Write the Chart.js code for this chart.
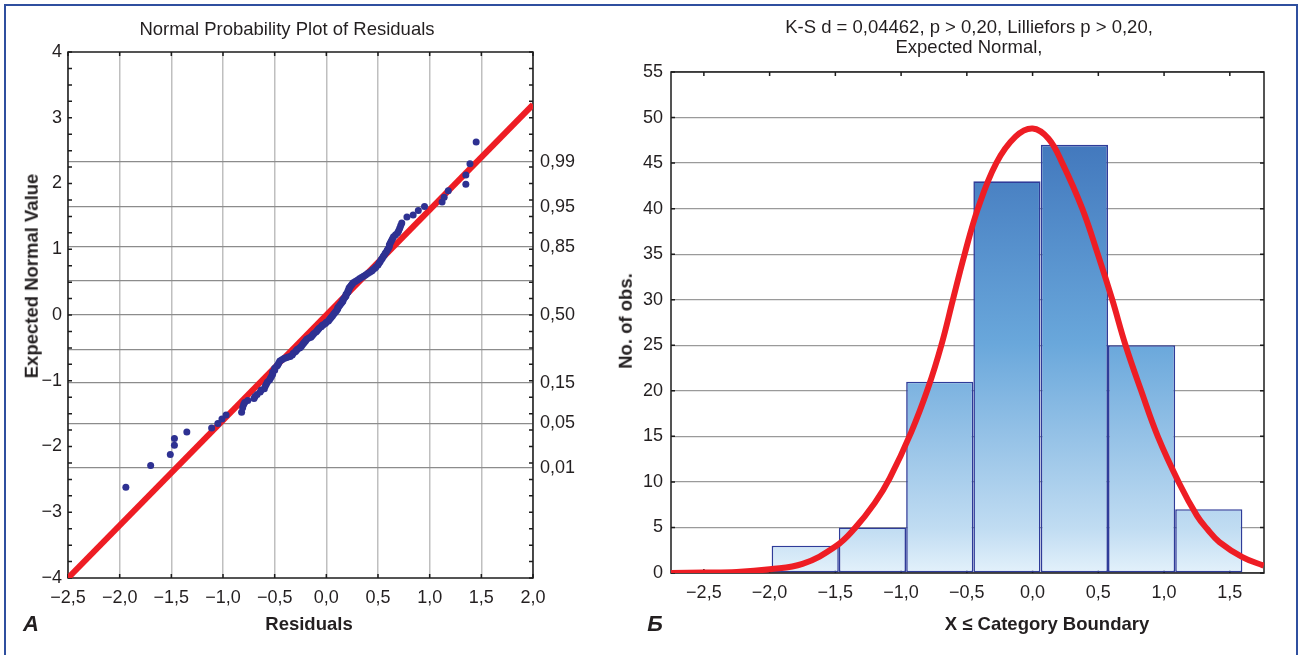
<!DOCTYPE html>
<html>
<head>
<meta charset="utf-8">
<script src="https://cdn.jsdelivr.net/npm/chart.js@4.4.1/dist/chart.umd.min.js"></script>
<style>
  body { margin: 0; width: 1300px; height: 655px; overflow: hidden; background: #fff; position: relative;
         font-family: 'Liberation Sans', Arial, sans-serif; color: #231f20; }
  #frame { position: absolute; left: 4px; top: 4px; width: 1294px; height: 700px; box-sizing: border-box;
           border: 2.5px solid #2f4f9f; }
  .box { position: absolute; top: 0; }
  .lbl { position: absolute; white-space: nowrap; line-height: 1; transform: translate(-50%, -50%); font-size: 18.5px; }
  .b { font-weight: bold; }
  .rot { transform: translate(-50%, -50%) rotate(-90deg); }
  .let { font-weight: bold; font-style: italic; font-size: 22px; }
</style>
</head>
<body>
<div id="frame"></div>
<div class="box" style="left:0"><canvas id="probPlot" width="600" height="655"></canvas></div>
<div class="box" style="left:600px"><canvas id="histPlot" width="700" height="655"></canvas></div>

<div class="lbl" style="left:287px;top:29px">Normal Probability Plot of Residuals</div>
<div class="lbl b rot" style="left:32px;top:276px">Expected Normal Value</div>
<div class="lbl b" style="left:309px;top:624px">Residuals</div>
<div class="lbl let" style="left:31px;top:624px">A</div>

<div class="lbl" style="left:969px;top:27px">K-S d = 0,04462, p &gt; 0,20, Lilliefors p &gt; 0,20,</div>
<div class="lbl" style="left:969px;top:47px">Expected Normal,</div>
<div class="lbl b rot" style="left:626px;top:321px">No. of obs.</div>
<div class="lbl b" style="left:1047px;top:624px">X ≤ Category Boundary</div>
<div class="lbl let" style="left:655px;top:624px">Б</div>

<script>
// левый график: остатки и ожидаемые нормальные значения
var residuals = [-1.94, -1.70, -1.51, -1.47, -1.47, -1.35, -1.11, -1.05, -1.01, -0.97,
  -0.82, -0.81, -0.80, -0.79, -0.76, -0.70, -0.69, -0.67, -0.64, -0.63,
  -0.60, -0.59, -0.58, -0.57, -0.55, -0.54, -0.53, -0.52, -0.52, -0.50,
  -0.50, -0.48, -0.47, -0.46, -0.45, -0.43, -0.41, -0.39, -0.37, -0.35,
  -0.33, -0.32, -0.30, -0.29, -0.28, -0.26, -0.25, -0.24, -0.23, -0.22,
  -0.21, -0.20, -0.19, -0.17, -0.15, -0.14, -0.13, -0.12, -0.10, -0.09,
  -0.08, -0.07, -0.05, -0.04, -0.03, -0.01, 0.00, 0.02, 0.03, 0.04,
  0.05, 0.06, 0.07, 0.08, 0.09, 0.10, 0.11, 0.11, 0.12, 0.13,
  0.14, 0.15, 0.16, 0.16, 0.17, 0.18, 0.19, 0.19, 0.20, 0.21,
  0.21, 0.22, 0.22, 0.23, 0.24, 0.25, 0.26, 0.28, 0.30, 0.32,
  0.34, 0.36, 0.38, 0.40, 0.42, 0.44, 0.45, 0.47, 0.48, 0.50,
  0.51, 0.52, 0.53, 0.54, 0.55, 0.56, 0.57, 0.58, 0.59, 0.60,
  0.61, 0.61, 0.62, 0.63, 0.64, 0.65, 0.67, 0.69, 0.70, 0.71,
  0.72, 0.73, 0.78, 0.84, 0.89, 0.95, 1.12, 1.14, 1.18, 1.35,
  1.35, 1.39, 1.45];
var expectedNormal = [-2.62, -2.29, -2.12, -1.98, -1.88, -1.78, -1.72, -1.65, -1.58, -1.52,
  -1.48, -1.41, -1.36, -1.33, -1.30, -1.27, -1.24, -1.21, -1.17, -1.14,
  -1.12, -1.08, -1.05, -1.02, -0.99, -0.96, -0.93, -0.90, -0.87, -0.84,
  -0.81, -0.78, -0.76, -0.73, -0.70, -0.68, -0.66, -0.65, -0.64, -0.63,
  -0.61, -0.58, -0.56, -0.54, -0.52, -0.50, -0.49, -0.47, -0.45, -0.43,
  -0.41, -0.39, -0.37, -0.35, -0.34, -0.32, -0.30, -0.28, -0.26, -0.24,
  -0.22, -0.20, -0.18, -0.16, -0.15, -0.13, -0.11, -0.09, -0.07, -0.05,
  -0.03, -0.01, 0.01, 0.03, 0.05, 0.07, 0.09, 0.11, 0.13, 0.15,
  0.17, 0.19, 0.21, 0.23, 0.25, 0.27, 0.29, 0.31, 0.33, 0.35,
  0.37, 0.39, 0.41, 0.43, 0.45, 0.47, 0.49, 0.51, 0.53, 0.55,
  0.57, 0.59, 0.61, 0.63, 0.65, 0.67, 0.69, 0.71, 0.73, 0.76,
  0.79, 0.81, 0.84, 0.86, 0.89, 0.91, 0.94, 0.96, 0.99, 1.01,
  1.04, 1.07, 1.10, 1.13, 1.16, 1.19, 1.22, 1.25, 1.28, 1.32,
  1.36, 1.40, 1.49, 1.52, 1.59, 1.65, 1.72, 1.79, 1.89, 1.99,
  2.13, 2.30, 2.63];
var fitX = [-2.5, 2.0];
var fitY = [-4, 3.2];
var probTicks = [2.326, 1.645, 1.036, 0.524, 0, -0.524, -1.036, -1.645, -2.326];
var probLabels = ['0,99', '0,95', '0,85', '', '0,50', '', '0,15', '0,05', '0,01'];

// правый график: гистограмма и ожидаемая нормальная кривая
var binCenters = [-1.729, -1.218, -0.706, -0.195, 0.318, 0.829, 1.34];
var binWidth = 0.511;
var binCounts = [3, 5, 21, 43, 47, 25, 7];
var curveX = [-2.75, -2.5, -2.25, -2.0, -1.75, -1.5, -1.353, -1.2, -1.087, -0.922, -0.795, -0.694, -0.606,
  -0.517, -0.416, -0.276, -0.13, 0.0, 0.12, 0.226, 0.378, 0.496, 0.606, 0.707, 0.826, 0.952, 1.117,
  1.25, 1.33, 1.421, 1.596, 1.758];
var curveY = [0.01, 0.05, 0.12, 0.42, 1.0, 2.9, 4.9, 7.7, 10.4, 15.5, 20.3, 25, 30,
  35, 40, 45, 47.9, 48.8, 47.7, 45, 40, 35, 30, 25, 20, 15, 9.8,
  6.3, 4.8, 3.4, 1.75, 0.8];
var histTicks = [-2.5, -2.0, -1.5, -1.0, -0.5, 0.0, 0.5, 1.0, 1.5];

var RED = '#ee1d24';
var NAVY = '#2e3192';

Chart.defaults.font.family = "'Liberation Sans', Arial, sans-serif";
Chart.defaults.font.size = 18;
Chart.defaults.color = '#231f20';
Chart.defaults.animation = false;

function fmtDec(v) {
  return (v < 0 ? '\u2212' : '') + Math.abs(v).toFixed(1).replace('.', ',');
}

// рамка и внутренние засечки
var frameTicks = {
  id: 'frameTicks',
  beforeDatasetsDraw: function (chart, args, opts) {
    var ctx = chart.ctx, a = chart.chartArea;
    var xs = chart.scales.x, ys = chart.scales.y;
    var len = opts.len || 4;
    ctx.save();
    ctx.strokeStyle = '#1c1c1c';
    ctx.lineWidth = 1.5;
    ctx.beginPath();
    xs.ticks.forEach(function (t) {
      var p = xs.getPixelForValue(t.value);
      ctx.moveTo(p, a.top); ctx.lineTo(p, a.top + len);
      ctx.moveTo(p, a.bottom); ctx.lineTo(p, a.bottom - len);
    });
    ys.ticks.forEach(function (t) {
      var p = ys.getPixelForValue(t.value);
      ctx.moveTo(a.left, p); ctx.lineTo(a.left + len, p);
      ctx.moveTo(a.right, p); ctx.lineTo(a.right - len, p);
    });
    ctx.stroke();
    ctx.strokeRect(a.left, a.top, a.width, a.height);
    ctx.restore();
  }
};

// Normal probability plot
var probCtx = document.getElementById('probPlot').getContext('2d');
var probChart = new Chart(probCtx, {
  type: 'scatter',
  data: {
    datasets: [{
      data: residuals.map(function (x, i) { return { x: x, y: expectedNormal[i] }; }),
      backgroundColor: NAVY,
      borderWidth: 0,
      pointRadius: 3.5,
      order: 0
    }, {
      type: 'line',
      data: fitX.map(function (x, i) { return { x: x, y: fitY[i] }; }),
      borderColor: RED,
      borderWidth: 6,
      pointRadius: 0,
      order: 1
    }]
  },
  options: {
    responsive: false,
    layout: { padding: { top: 52, left: 0, right: 0, bottom: 0 } },
    plugins: { legend: { display: false }, tooltip: { enabled: false }, frameTicks: { len: 4 } },
    scales: {
      x: {
        type: 'linear', min: -2.5, max: 2.0,
        ticks: { stepSize: 0.5, padding: 9, callback: fmtDec },
        grid: { color: '#bfbfbf', lineWidth: 1.5, drawTicks: false },
        border: { display: false },
        afterFit: function (s) { s.height = 77; }
      },
      y: {
        position: 'left', min: -4, max: 4,
        ticks: {
          stepSize: 0.25, autoSkip: false, padding: 6,
          callback: function (v) { return Number.isInteger(v) ? (v < 0 ? '\u2212' + Math.abs(v) : String(v)) : ''; }
        },
        grid: { drawOnChartArea: false, drawTicks: false },
        border: { display: false },
        afterFit: function (s) { s.width = 68; }
      },
      y2: {
        position: 'right', min: -4, max: 4,
        afterBuildTicks: function (s) { s.ticks = probTicks.map(function (v) { return { value: v }; }); },
        ticks: { autoSkip: false, padding: 7, callback: function (v, i) { return probLabels[i]; } },
        grid: { color: '#8c8c8c', lineWidth: 1.3, drawTicks: false },
        border: { display: false },
        afterFit: function (s) { s.width = 67; }
      }
    }
  },
  plugins: [frameTicks]
});

// Histogram with expected normal
var histCtx = document.getElementById('histPlot').getContext('2d');
var histChart = new Chart(histCtx, {
  type: 'bar',
  data: {
    datasets: [{
      type: 'line',
      data: curveX.map(function (x, i) { return { x: x, y: curveY[i] }; }),
      borderColor: RED,
      borderWidth: 6,
      pointRadius: 0,
      tension: 0.4,
      order: 0
    }, {
      type: 'bar',
      data: binCenters.map(function (c, i) { return { x: c, y: binCounts[i] }; }),
      backgroundColor: function (c) {
        var a = c.chart.chartArea;
        if (!a) return '#6aa6da';
        var g = c.chart.ctx.createLinearGradient(0, a.top, 0, a.bottom);
        g.addColorStop(0, '#3a6db6');
        g.addColorStop(0.14, '#4278bd');
        g.addColorStop(0.54, '#69a7db');
        g.addColorStop(0.91, '#c0dcf2');
        g.addColorStop(1, '#e3f1fb');
        return g;
      },
      borderColor: '#2f3c99',
      borderWidth: 1.6,
      borderSkipped: false,
      barPercentage: 1,
      categoryPercentage: binWidth / 0.5,
      order: 1
    }]
  },
  options: {
    responsive: false,
    layout: { padding: { top: 72, left: 0, right: 36, bottom: 0 } },
    plugins: { legend: { display: false }, tooltip: { enabled: false }, frameTicks: { len: 4 } },
    scales: {
      x: {
        type: 'linear', min: -2.75, max: 1.76, offset: false,
        afterBuildTicks: function (s) { s.ticks = histTicks.map(function (v) { return { value: v }; }); },
        ticks: { autoSkip: false, padding: 9, callback: fmtDec },
        grid: { display: false, offset: false, drawTicks: false },
        border: { display: false },
        afterFit: function (s) { s.height = 82; }
      },
      y: {
        min: 0, max: 55,
        ticks: { stepSize: 5, padding: 8 },
        grid: { color: '#9a9a9a', lineWidth: 1.3, drawTicks: false },
        border: { display: false },
        afterFit: function (s) { s.width = 71; }
      }
    }
  },
  plugins: [frameTicks]
});
</script>
</body>
</html>
